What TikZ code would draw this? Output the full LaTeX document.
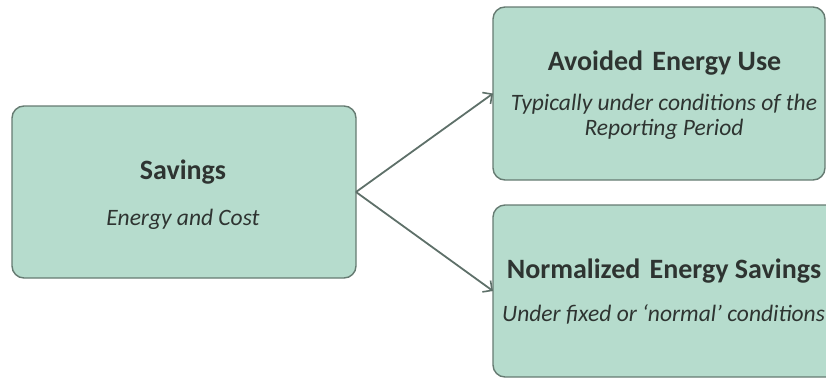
\documentclass[tikz,border=0pt]{standalone}
\usepackage{fontspec}
\setmainfont{Carlito}
\usetikzlibrary{arrows.meta}
\definecolor{boxfill}{HTML}{B6DCCD}
\definecolor{boxline}{HTML}{667B72}
\definecolor{arrowcol}{HTML}{5E7069}
\definecolor{txt}{HTML}{2E3431}
\begin{document}
\begin{tikzpicture}[x=1pt,y=-1pt,
  box/.style={draw=boxline,fill=boxfill,line width=1.4pt,rounded corners=12pt,inner sep=0pt,outer sep=0pt},
  title/.style={anchor=base,text=txt,inner sep=0pt,font=\fontsize{28}{32}\selectfont\bfseries},
  sub/.style={anchor=base,text=txt,inner sep=0pt,align=center,font=\fontsize{23.5}{25}\selectfont\itshape},
  conn/.style={draw=arrowcol,line width=1.8pt,-{Straight Barb[length=7pt,width=14pt,line width=1.6pt]}}]
\useasboundingbox (0,0) rectangle (826,378);
\clip (0,0) rectangle (826,378);
\node[box,minimum width=344pt,minimum height=172pt] (sav) at (184,192) {};
\node[box,minimum width=332pt,minimum height=173pt] (avo) at (659,93.5) {};
\node[box,minimum width=345pt,minimum height=172pt] (nor) at (665.5,291) {};
\node[title] (savt) at (183,179) {Savings};
\node[sub] (savs) at (183,225) {Energy and Cost};
\node[title] (avot) at (664.5,70.5) {Avoided\,\,Energy Use};
\node[sub] (avos) at (664,135) {Typically under conditions of the\\Reporting Period};
\node[title] (nort) at (664,278.5) {Normalized\,\,Energy Savings};
\node[sub,anchor=base west] (nors) at (502,321) {Under fixed or ‘normal’ conditions};
\draw[conn] (sav.east) -- (avo.west);
\draw[conn] (sav.east) -- (nor.west);
\end{tikzpicture}
\end{document}
